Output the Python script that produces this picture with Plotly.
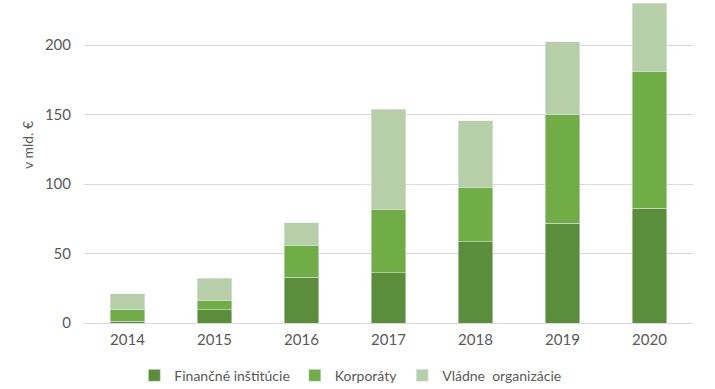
import plotly.graph_objects as go

years = ["2014", "2015", "2016", "2017", "2018", "2019", "2020"]
financne = [1.4, 9.6, 33.1, 36.0, 58.3, 71.6, 82.4]
korporaty = [8.2, 6.7, 22.9, 45.7, 39.4, 78.7, 98.9]
vladne = [11.3, 15.9, 16.3, 72.2, 47.8, 52.1, 48.7]

FONT = "Lato, 'Open Sans', sans-serif"
TXT = "#595959"

fig = go.Figure()
fig.add_bar(x=years, y=financne, name="Finančné inštitúcie", marker_color="#5b8e3b")
fig.add_bar(x=years, y=korporaty, name="Korporáty", marker_color="#70ad47")
fig.add_bar(x=years, y=vladne, name="Vládne\u00a0 organizácie", marker_color="#b6cfa8")

fig.update_layout(
    barmode="stack",
    bargap=0.6,
    width=715, height=389,
    margin=dict(l=84, r=22, t=0, b=66, autoexpand=False),
    plot_bgcolor="white", paper_bgcolor="white",
    font=dict(family=FONT, size=14, color=TXT),
    legend=dict(orientation="h", xref="container", x=0.49, xanchor="center",
                yref="container", y=0.034, yanchor="middle",
                font=dict(size=14, color=TXT), traceorder="normal",
                itemwidth=30, tracegroupgap=0),
    showlegend=True,
    annotations=[dict(text="v mld. €", textangle=-90, xref="paper", yref="paper",
                      x=-0.0936, y=0.551, xanchor="center", yanchor="middle",
                      showarrow=False, font=dict(size=14, color=TXT))],
)
fig.update_yaxes(range=[0, 232.4], tickvals=[0, 50, 100, 150, 200],
                 showgrid=True, gridcolor="#d9d9d9", gridwidth=1,
                 zeroline=True, zerolinecolor="#d9d9d9", zerolinewidth=1,
                 showline=False, ticks="", ticklabelstandoff=12, automargin=False,
                 tickfont=dict(size=15))
fig.update_xaxes(showline=False, ticks="", showgrid=False, ticklabelstandoff=6,
                 automargin=False, tickfont=dict(size=15))

fig.write_html("out.html", config={"displayModeBar": False},
               post_script="document.body.style.margin='0';document.body.style.padding='0';")
